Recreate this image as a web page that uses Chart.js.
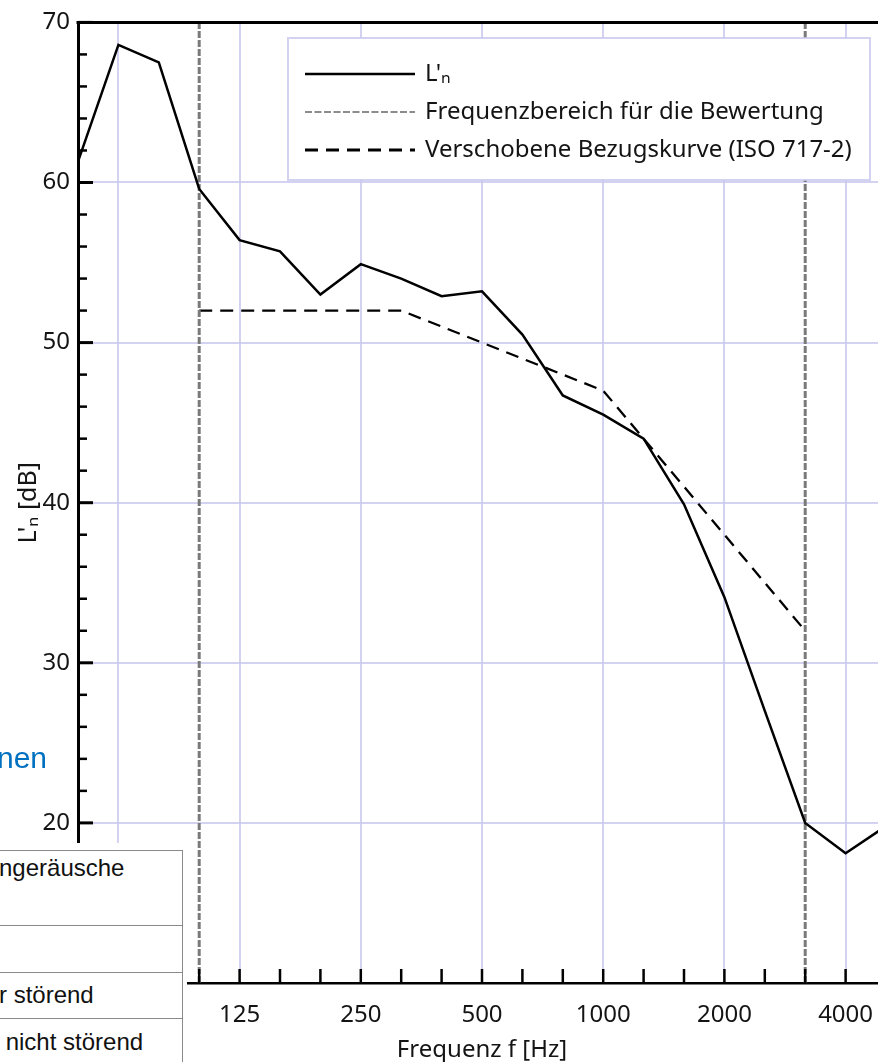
<!DOCTYPE html>
<html lang="de">
<head>
<meta charset="utf-8">
<title>Trittschallpegel L'n</title>
<script src="https://cdn.jsdelivr.net/npm/chart.js@4.4.1/dist/chart.umd.min.js"></script>
<style>
  html, body { margin: 0; padding: 0; background: #fff; width: 878px; height: 1062px; overflow: hidden; }
  #plot { position: absolute; left: 0; top: 0; }
  #heading { position: absolute; left: -3px; top: 741px; font: 30px "Liberation Sans", Arial, sans-serif; color: #0070c0; white-space: nowrap; }
  #rating { position: absolute; left: 0; top: 843px; width: 187px; height: 219px; background: #fff; overflow: hidden; }
  #rating table { position: absolute; left: -2px; top: 7px; width: 185px; border-collapse: collapse; font: 24px "Liberation Sans", Arial, sans-serif; color: #111; }
  #rating td { border: 1.5px solid #8a8a8a; padding: 0; white-space: nowrap; vertical-align: middle; }
  #rating tr.tall td { height: 71px; vertical-align: top; padding-top: 3px; }
  #rating tr.row td { height: 45.5px; }
</style>
</head>
<body>
<canvas id="plot" width="904" height="1062"></canvas>
<div id="heading">nen</div>
<div id="rating">
  <table>
    <tr class="tall"><td>ngeräusche</td></tr>
    <tr class="row"><td>&nbsp;</td></tr>
    <tr class="row"><td>r störend</td></tr>
    <tr class="row"><td>&nbsp;nicht störend</td></tr>
  </table>
</div>
<script>
// Third-octave band centre frequencies (Hz)
const bandLabels = ['50','63','80','100','125','160','200','250','315','400','500','630','800','1000','1250','1600','2000','2500','3150','4000','5000'];
// Measured normalised impact sound level L'n per band (dB)
const lnValues = [61.3, 68.6, 67.5, 59.6, 56.4, 55.7, 53.0, 54.9, 54.0, 52.9, 53.2, 50.5, 46.7, 45.5, 44.0, 39.9, 34.1, 27.0, 20.0, 18.1, 19.8];
// Shifted reference curve (ISO 717-2), defined from 100 Hz to 3150 Hz
const refValues = [null, null, null, 52, 52, 52, 52, 52, 52, 51, 50, 49, 48, 47, 44, 41, 38, 35, 32, null, null];
// Band limits of the frequency range used for the rating
const ratingRange = ['100', '3150'];
// Bands with a vertical grid line, and bands with a printed label
const octaveBands = ['63','125','250','500','1000','2000','4000'];
const labeledBands = ['125','250','500','1000','2000','4000'];
// Level axis
const yMin = 10, yMax = 70, yMajorStep = 10, yMinorStep = 2;

const FONT = '"Noto Sans", "Open Sans", sans-serif';
const TEXT = '#141414';
const GRID = 'rgba(200, 200, 238, 0.8)';

// vertical segments marking the rating range, separated by a gap
const rangeData = [];
ratingRange.forEach((band, i) => {
  if (i > 0) rangeData.push({ x: band, y: null });
  rangeData.push({ x: band, y: yMin }, { x: band, y: yMax });
});

// frame line on top, inward tick marks on both axes
const axisFrame = {
  id: 'axisFrame',
  afterDatasetsDraw(chart) {
    const { ctx, chartArea: a, scales: { x, y } } = chart;
    const seg = (x1, y1, x2, y2) => { ctx.beginPath(); ctx.moveTo(x1, y1); ctx.lineTo(x2, y2); ctx.stroke(); };
    ctx.save();
    ctx.strokeStyle = '#000';
    ctx.lineCap = 'butt';
    ctx.lineWidth = 3;
    seg(a.left - 1.5, a.top, a.right, a.top);
    for (let v = yMin; v <= yMax; v += yMinorStep) {
      const py = y.getPixelForValue(v);
      const major = v % yMajorStep === 0;
      ctx.lineWidth = major ? 3 : 2.5;
      seg(a.left, py, a.left + (major ? 15 : 9), py);
    }
    ctx.lineWidth = 2.5;
    bandLabels.forEach((b, i) => {
      const px = x.getPixelForValue(i);
      seg(px, a.bottom, px, a.bottom - 14);
    });
    ctx.restore();
  }
};

// framed legend inside the plot area
const boxLegend = {
  id: 'boxLegend',
  afterDraw(chart, args, opts) {
    const ctx = chart.ctx;
    ctx.save();
    ctx.fillStyle = '#fff';
    ctx.fillRect(opts.left, opts.top, opts.width, opts.height);
    ctx.strokeStyle = GRID;
    ctx.lineWidth = 2;
    ctx.strokeRect(opts.left, opts.top, opts.width, opts.height);
    ctx.font = '24px ' + FONT;
    ctx.textBaseline = 'middle';
    ctx.fillStyle = TEXT;
    chart.data.datasets.forEach((ds, i) => {
      const cy = opts.top + opts.firstRow + i * opts.rowGap;
      const sx = opts.left + opts.sampleInset;
      ctx.strokeStyle = ds.legendColor || ds.borderColor;
      ctx.lineWidth = ds.legendWidth || ds.borderWidth;
      ctx.setLineDash(ds.legendDash || ds.borderDash || []);
      ctx.beginPath();
      ctx.moveTo(sx, cy);
      ctx.lineTo(sx + opts.sampleLength, cy);
      ctx.stroke();
      ctx.setLineDash([]);
      ctx.fillText(ds.label, sx + opts.sampleLength + opts.textGap, cy);
    });
    ctx.restore();
  }
};

new Chart(document.getElementById('plot'), {
  type: 'line',
  data: {
    labels: bandLabels,
    datasets: [
      {
        label: "L'ₙ",
        data: lnValues,
        borderColor: '#000',
        borderWidth: 2.5,
        legendWidth: 2.6,
        pointRadius: 0,
        tension: 0
      },
      {
        label: 'Frequenzbereich für die Bewertung',
        data: rangeData,
        borderColor: '#7a7a7a',
        borderWidth: 3,
        borderDash: [7, 2],
        legendColor: '#8c8c8c',
        legendWidth: 1.8,
        legendDash: [7, 2.5],
        pointRadius: 0,
        spanGaps: false
      },
      {
        label: 'Verschobene Bezugskurve (ISO 717-2)',
        data: refValues,
        borderColor: '#000',
        borderWidth: 2.3,
        borderDash: [13, 8],
        legendWidth: 2.8,
        pointRadius: 0,
        spanGaps: false
      }
    ]
  },
  options: {
    responsive: false,
    animation: false,
    devicePixelRatio: 1,
    events: [],
    layout: { padding: { top: 21, right: 10, left: 0, bottom: 0 } },
    plugins: {
      legend: { display: false },
      tooltip: { enabled: false },
      boxLegend: { left: 288, top: 38, width: 582, height: 142, firstRow: 36, rowGap: 38, sampleInset: 17, sampleLength: 110, textGap: 10 }
    },
    scales: {
      x: {
        type: 'category',
        offset: false,
        grid: {
          offset: false,
          drawTicks: false,
          lineWidth: 2,
          color: (c) => octaveBands.includes(bandLabels[c.index]) ? GRID : 'rgba(0,0,0,0)'
        },
        border: { display: true, color: '#000', width: 2.5 },
        ticks: {
          autoSkip: false,
          maxRotation: 0,
          minRotation: 0,
          padding: 18,
          color: TEXT,
          font: { family: FONT, size: 24 },
          callback: (v, i) => labeledBands.includes(bandLabels[i]) ? bandLabels[i] : ''
        },
        title: { display: true, text: 'Frequenz f [Hz]', color: TEXT, font: { family: FONT, size: 24 }, padding: { top: 0, bottom: -3 } },
        afterFit: (s) => { s.height = 79; }
      },
      y: {
        min: yMin,
        max: yMax,
        grid: { drawTicks: false, lineWidth: 2, color: GRID },
        border: { display: true, color: '#000', width: 3 },
        ticks: {
          stepSize: yMajorStep,
          padding: 8,
          color: TEXT,
          font: { family: FONT, size: 24 },
          callback: (v) => v === yMin ? '' : v
        },
        title: { display: true, text: "L'ₙ [dB]", color: TEXT, font: { family: FONT, size: 25 }, padding: { top: 14, bottom: 0 } },
        afterFit: (s) => { s.width = 78; }
      }
    }
  },
  plugins: [axisFrame, boxLegend]
});
</script>
</body>
</html>
